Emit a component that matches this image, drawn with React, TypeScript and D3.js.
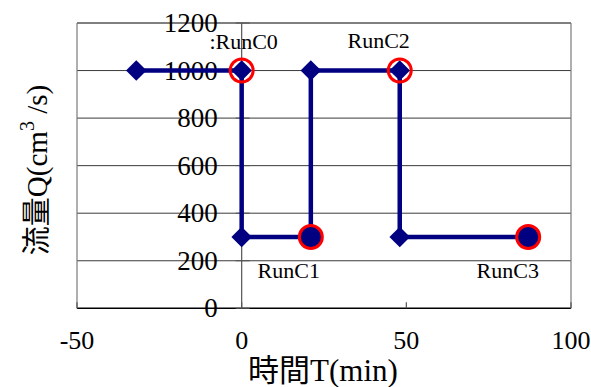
import React from "react";
import * as d3 from "d3";

// Data
const stepT: number[] = [-32, 0, 0, 21, 21, 48, 48, 87];
const stepQ: number[] = [1000, 1000, 300, 300, 1000, 1000, 300, 300];
const ringRuns: { t: number; q: number }[] = [
  { t: 0, q: 1000 },
  { t: 48, q: 1000 },
];
const filledRuns: { t: number; q: number }[] = [
  { t: 21, q: 300 },
  { t: 87, q: 300 },
];
const runLabels: { text: string; t: number; q: number }[] = [
  { text: ":RunC0", t: 0.6, q: 1092 },
  { text: "RunC2", t: 41.6, q: 1095 },
  { text: "RunC1", t: 14.3, q: 126 },
  { text: "RunC3", t: 80.8, q: 126 },
];
const xTicks: number[] = [-50, 0, 50, 100];
const yTicks: number[] = [0, 200, 400, 600, 800, 1000, 1200];
const xTitle = "時間T(min)";
const yTitleMain = "流量Q(cm";
const yTitleSup = "3";
const yTitleEnd = " /s)";

const W = 591;
const H = 387;
const FONT = "'Liberation Serif', 'Times New Roman', 'Noto Sans CJK JP', serif";

export default function App() {
  const x = d3.scaleLinear().domain([-50, 100]).range([77, 571]);
  const y = d3.scaleLinear().domain([0, 1200]).range([308.3, 23]);
  const x0 = x(0);

  const line = d3
    .line<number>()
    .x((_, i) => x(stepT[i]))
    .y((d) => y(d));

  const diamond = d3.symbol().type(d3.symbolDiamond2).size(270)();

  return (
    <div style={{ position: "fixed", left: 0, top: 0 }}>
      <svg width={W} height={H} style={{ display: "block", background: "#fff", fontFamily: FONT }}>
        {/* gridlines */}
        {yTicks.map((v) => (
          <line
            key={"g" + v}
            x1={x(-50)}
            x2={x(100)}
            y1={y(v)}
            y2={y(v)}
            stroke={v === 1200 ? "#000" : v === 0 ? "#000" : "#3a3a3a"}
            strokeWidth={v === 0 ? 1.6 : 1}
          />
        ))}
        {/* borders */}
        <line x1={x(-50)} x2={x(-50)} y1={y(1200)} y2={y(0)} stroke="#7a7a7a" strokeWidth={1.2} />
        <line x1={x(100)} x2={x(100)} y1={y(1200)} y2={y(0)} stroke="#7a7a7a" strokeWidth={1.2} />
        {/* y axis at x=0 */}
        <line x1={x0} x2={x0} y1={y(1200)} y2={y(0)} stroke="#555" strokeWidth={1.2} />
        {yTicks.map((v) => (
          <line key={"yt" + v} x1={x0 - 6} x2={x0 + 8} y1={y(v)} y2={y(v)} stroke="#555" strokeWidth={1} />
        ))}
        {xTicks.map((v) => (
          <line key={"xt" + v} x1={x(v)} x2={x(v)} y1={y(0)} y2={y(0) - 6} stroke="#555" strokeWidth={1.2} />
        ))}
        {/* y tick labels */}
        {yTicks.map((v) => (
          <text key={"yl" + v} x={x0 - 24} y={y(v)} dy="0.34em" textAnchor="end" fontSize={27} fill="#000">
            {v}
          </text>
        ))}
        {/* x tick labels */}
        {xTicks.map((v) => (
          <text key={"xl" + v} x={x(v)} y={349} textAnchor="middle" fontSize={26} fill="#000">
            {v}
          </text>
        ))}
        {/* series line */}
        <path d={line(stepQ) || ""} fill="none" stroke="#000080" strokeWidth={4.5} strokeLinejoin="miter" />
        {stepQ.map((q, i) => (
          <path key={"d" + i} d={diamond || ""} transform={`translate(${x(stepT[i])},${y(q)})`} fill="#000080" />
        ))}
        {ringRuns.map((p, i) => (
          <circle key={"r" + i} cx={x(p.t)} cy={y(p.q)} r={11.5} fill="none" stroke="#ff0000" strokeWidth={3} />
        ))}
        {filledRuns.map((p, i) => (
          <circle key={"f" + i} cx={x(p.t)} cy={y(p.q)} r={11.5} fill="#000080" stroke="#ff0000" strokeWidth={3} />
        ))}
        {/* run labels */}
        {runLabels.map((l) => (
          <text key={l.text} x={x(l.t)} y={y(l.q)} textAnchor="middle" fontSize={22} fill="#000">
            {l.text}
          </text>
        ))}
        {/* axis titles */}
        <text x={323} y={381} textAnchor="middle" fontSize={31} fill="#000">
          {xTitle}
        </text>
        <text transform="translate(47,170) rotate(-90)" textAnchor="middle" fontSize={29} fill="#000">
          {yTitleMain}
          <tspan fontSize={20} dy={-13}>
            {yTitleSup}
          </tspan>
          <tspan dy={13}>{yTitleEnd}</tspan>
        </text>
      </svg>
    </div>
  );
}
